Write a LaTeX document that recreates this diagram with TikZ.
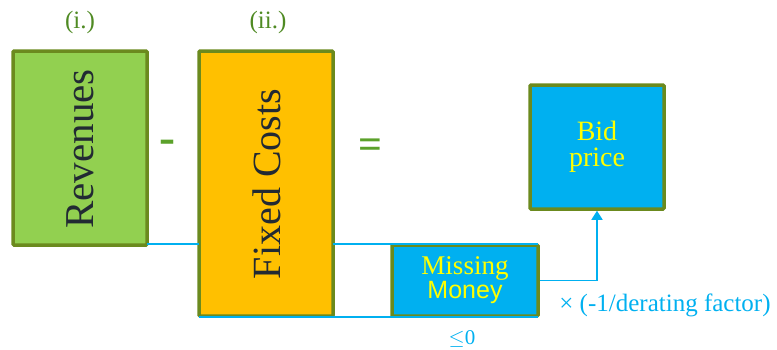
\documentclass[tikz,border=0pt]{standalone}
\usepackage{fontspec}
\setmainfont{Liberation Serif}
\newfontfamily\sansf{Liberation Sans}
\usetikzlibrary{arrows.meta}
\definecolor{boxgreen}{HTML}{92D050}
\definecolor{boxborder}{HTML}{6B8A1E}
\definecolor{boxorange}{HTML}{FFC000}
\definecolor{boxblue}{HTML}{00B0F0}
\definecolor{labgreen}{HTML}{4F8A23}
\definecolor{optgreen}{HTML}{5BA12A}
\definecolor{txtdark}{HTML}{222A33}
\definecolor{txtyellow}{HTML}{FFFF00}
\tikzset{
  blockbox/.style={draw=boxborder, line width=3.5pt, inner sep=0pt, rounded corners=1pt},
  bluelink/.style={draw=boxblue, line width=1.6pt},
  lab/.style={text=labgreen, font=\fontsize{25}{28}\selectfont},
}
\begin{document}
\begin{tikzpicture}[x=1pt,y=-1pt]
\useasboundingbox (0,0) rectangle (777,349);
\node[lab] (l1) at (80,22) {(i.)};
\node[lab] (l2) at (268,22) {(ii.)};
\node[blockbox, fill=boxgreen, minimum width=134pt, minimum height=194pt] (rev) at (80,148) {};
\node[rotate=90, text=txtdark, font=\fontsize{41}{44}\selectfont] (revt) at (80,149) {Revenues};
\node[blockbox, fill=boxorange, minimum width=134pt, minimum height=265pt] (fix) at (266,183.5) {};
\node[rotate=90, text=txtdark, font=\fontsize{40}{44}\selectfont] (fixt) at (267,184) {Fixed Costs};
\node[blockbox, fill=boxblue, minimum width=146pt, minimum height=71pt] (mm) at (465,280.5) {};
\node[text=txtyellow, inner sep=0pt, align=center, font=\fontsize{27}{22}\selectfont] (mmt) at (465,280) {Missing\\{\sansf\fontsize{25}{22}\selectfont Money}};
\node[blockbox, fill=boxblue, minimum width=134pt, minimum height=124pt] (bid) at (597,147) {};
\node[text=txtyellow, inner sep=0pt, align=center, font=\fontsize{28}{26}\selectfont] (bidt) at (597,147) {Bid\\price};
\node[text=optgreen, font=\bfseries\fontsize{48}{50}\selectfont] (minus) at (167,147) {-};
\node[text=optgreen, font=\bfseries\fontsize{42}{46}\selectfont] (eq) at (370,149) {=};
\node[text=boxblue, font=\fontsize{25}{28}\selectfont, anchor=center] (fac) at (665,305) {× (-1/derating factor)};
\node[text=boxblue, font=\fontsize{21}{24}\selectfont] (le) at (462,339) {$\leq$0};
\coordinate (c1) at (147,244);
\coordinate (c2) at (199,244);
\coordinate (c3) at (333,244);
\coordinate (c4) at (538,244);
\coordinate (c5) at (199,317);
\coordinate (c6) at (538,317);
\draw[bluelink] (c1) -- (c2);
\draw[bluelink] (c3) -- (c4);
\draw[bluelink] (c5) -- (c6);
\draw[bluelink, -{Triangle[length=9pt,width=11pt]}] (mm.east) -| (bid.south);
\end{tikzpicture}
\end{document}
